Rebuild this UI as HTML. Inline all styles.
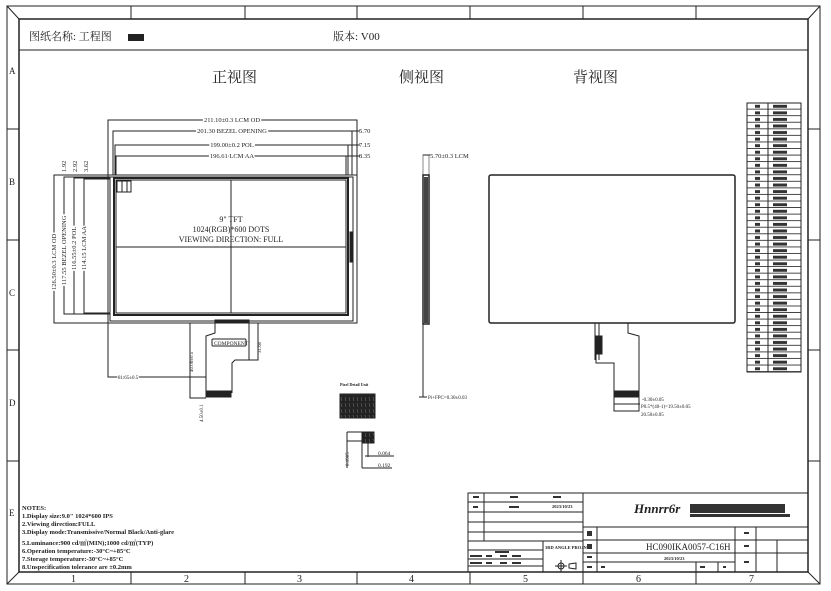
<!DOCTYPE html>
<html><head><meta charset="utf-8"><style>
html,body{margin:0;padding:0;background:#fff;}
svg{display:block;}
text{font-family:"Liberation Serif","Noto Serif CJK SC",serif;fill:#222;}
.s{font-family:"Liberation Sans","Noto Sans CJK SC",sans-serif;}
</style></head><body>
<svg width="831" height="591" viewBox="0 0 831 591" xmlns="http://www.w3.org/2000/svg">
<defs>
<pattern id="pr" x="747" y="103" width="54" height="6.561" patternUnits="userSpaceOnUse">
<line x1="0" y1="6.2" x2="54" y2="6.2" stroke="#222" stroke-width="0.9"/>
<rect x="8" y="1.8" width="5" height="3" fill="#333"/>
<rect x="26" y="1.8" width="14" height="3" fill="#333"/>
</pattern>
<pattern id="px" width="4" height="6" patternUnits="userSpaceOnUse">
<rect width="4" height="6" fill="#222"/><line x1="1" y1="1" x2="2" y2="5" stroke="#777" stroke-width="0.5"/>
</pattern>
</defs>
<g fill="none" stroke="#222" stroke-width="1">
<rect x="7" y="6" width="813" height="578"/>
<rect x="19" y="19" width="789" height="553" stroke-width="1.5"/>
<line x1="7" y1="6" x2="19" y2="19"/><line x1="820" y1="584" x2="808" y2="572"/>
<line x1="7" y1="584" x2="19" y2="572"/><line x1="820" y1="6" x2="808" y2="19"/>
<line x1="19" y1="50" x2="808" y2="50"/>
<line x1="131" y1="6" x2="131" y2="19"/><line x1="245" y1="6" x2="245" y2="19"/><line x1="357" y1="6" x2="357" y2="19"/><line x1="470" y1="6" x2="470" y2="19"/><line x1="583" y1="6" x2="583" y2="19"/><line x1="696" y1="6" x2="696" y2="19"/>
<line x1="131" y1="572" x2="131" y2="584"/><line x1="245" y1="572" x2="245" y2="584"/><line x1="357" y1="572" x2="357" y2="584"/><line x1="470" y1="572" x2="470" y2="584"/><line x1="583" y1="572" x2="583" y2="584"/><line x1="696" y1="572" x2="696" y2="584"/>
<line x1="7" y1="129" x2="19" y2="129"/><line x1="7" y1="240" x2="19" y2="240"/><line x1="7" y1="350" x2="19" y2="350"/><line x1="7" y1="461" x2="19" y2="461"/>
<line x1="808" y1="129" x2="820" y2="129"/><line x1="808" y1="240" x2="820" y2="240"/><line x1="808" y1="350" x2="820" y2="350"/><line x1="808" y1="461" x2="820" y2="461"/>

<rect x="108" y="175" width="249" height="148"/>
<rect x="110" y="177" width="243" height="144"/>
<rect x="114" y="178" width="234" height="137" stroke-width="2"/>
<rect x="116" y="180" width="230" height="133"/>
<line x1="231" y1="180" x2="231" y2="313"/><line x1="116" y1="247" x2="346" y2="247"/>
<rect x="117" y="181" width="14" height="11"/>
<line x1="122" y1="181" x2="122" y2="192"/><line x1="127" y1="181" x2="127" y2="192"/>
<rect x="350" y="232" width="3" height="30" fill="#222"/>
<polyline points="108,175 108,120 357,120 357,175"/>
<polyline points="113,175 113,131 352,131 352,175"/>
<polyline points="115,175 115,145 348,145 348,175"/>
<polyline points="116,175 116,156 346,156 346,175"/>
<line x1="352" y1="131" x2="360" y2="131"/><line x1="348" y1="145" x2="360" y2="145"/><line x1="346" y1="156" x2="360" y2="156"/>
<polyline points="108,175 54,175 54,323 108,323"/>
<polyline points="110,177 64,177 64,314 110,314"/>
<polyline points="110,178 74,178 74,314 110,314"/>
<polyline points="110,179 84,179 84,313 110,313"/>
<rect x="215" y="320" width="34" height="3" fill="#222"/>
<polyline points="215,323 215,333 206,336 206,393"/>
<polyline points="249,323 249,360 235,360 232,363 232,393"/>
<rect x="206" y="391" width="25" height="6" fill="#222"/>
<rect x="212" y="339" width="34" height="7" rx="1"/>
<polyline points="108,323 108,377 206,377"/>
<polyline points="190,323 190,398 206,398"/>
<polyline points="258,323 258,360 249,360"/>

<rect x="423" y="155" width="6" height="20" stroke="#888"/>
<rect x="423" y="175" width="6" height="149" stroke-width="1.5"/>
<rect x="424" y="177" width="4" height="146" fill="#444" stroke="none"/>
<line x1="423" y1="324" x2="423" y2="397"/><line x1="419" y1="397" x2="427" y2="397"/>
<line x1="423" y1="155" x2="430" y2="155"/>

<rect x="489" y="175" width="246" height="148" rx="2" stroke-width="1.5"/>
<line x1="595" y1="323" x2="595" y2="360"/><line x1="599" y1="323" x2="599" y2="360"/>
<rect x="595" y="336" width="7" height="18" fill="#222"/>
<polyline points="596,354 596,363 614,363 614,397"/>
<polyline points="628,323 628,333 639,336 639,397"/>
<rect x="614" y="391" width="25" height="6" fill="#222"/>
<rect x="614" y="391" width="25" height="20"/>
<line x1="614" y1="404" x2="640" y2="404"/>

<rect x="340" y="394" width="35" height="24" fill="url(#px)"/>
<rect x="362" y="432" width="12" height="11" fill="url(#px)"/>
<polyline points="347,432 362,432"/><polyline points="347,441 362,441"/>
<line x1="347" y1="432" x2="347" y2="468"/>
<line x1="362" y1="443" x2="362" y2="468"/><line x1="362" y1="468" x2="392" y2="468"/>
<line x1="368" y1="443" x2="368" y2="457"/><line x1="365" y1="456" x2="394" y2="456"/>

<rect x="747" y="103" width="54" height="269" fill="url(#pr)"/>
<rect x="747" y="103" width="54" height="269"/>
<line x1="768" y1="103" x2="768" y2="372"/>
</g>

<g fill="none" stroke="#222" stroke-width="1">
<rect x="468" y="493" width="340" height="79"/>
<line x1="583" y1="493" x2="583" y2="572"/>
<line x1="484" y1="493" x2="484" y2="541"/><line x1="543" y1="541" x2="543" y2="572"/>
<line x1="468" y1="502" x2="583" y2="502"/><line x1="468" y1="512" x2="583" y2="512"/><line x1="468" y1="522" x2="583" y2="522"/><line x1="468" y1="532" x2="583" y2="532"/><line x1="468" y1="541" x2="583" y2="541"/><line x1="468" y1="550" x2="543" y2="550"/>
<line x1="468" y1="559" x2="543" y2="559"/><line x1="468" y1="566" x2="543" y2="566"/>
<line x1="583" y1="527" x2="808" y2="527"/><line x1="583" y1="540" x2="735" y2="540"/><line x1="583" y1="553" x2="735" y2="553"/><line x1="583" y1="562" x2="735" y2="562"/>
<line x1="735" y1="540" x2="808" y2="540"/><line x1="735" y1="553" x2="808" y2="553"/>
<line x1="597" y1="527" x2="597" y2="572"/><line x1="735" y1="527" x2="735" y2="572"/><line x1="756" y1="527" x2="756" y2="572"/><line x1="777" y1="540" x2="777" y2="572"/>
<line x1="696" y1="562" x2="696" y2="572"/><line x1="718" y1="562" x2="718" y2="572"/>
<circle cx="561" cy="566" r="3"/><line x1="555" y1="566" x2="567" y2="566"/><line x1="561" y1="560" x2="561" y2="572"/>
<polygon points="576,563 576,569 569,568 569,564"/>
</g>
<g fill="#333">
<rect x="473" y="496" width="6" height="2"/><rect x="510" y="496" width="8" height="2"/><rect x="553" y="496" width="8" height="2"/>
<rect x="473" y="506" width="5" height="2"/><rect x="509" y="506" width="10" height="2"/>
<rect x="495" y="551" width="14" height="2"/>
<rect x="470" y="555" width="12" height="2"/><rect x="486" y="555" width="6" height="2"/><rect x="500" y="555" width="7" height="2"/><rect x="512" y="555" width="9" height="2"/>
<rect x="470" y="562" width="12" height="2"/><rect x="486" y="562" width="6" height="2"/><rect x="500" y="562" width="7" height="2"/><rect x="512" y="562" width="9" height="2"/>
<rect x="587" y="531" width="5" height="5"/><rect x="587" y="544" width="5" height="5"/><rect x="587" y="556" width="5" height="2"/><rect x="587" y="566" width="5" height="2"/>
<rect x="744" y="532" width="5" height="2"/><rect x="744" y="545" width="5" height="2"/><rect x="744" y="561" width="5" height="2"/>
<rect x="601" y="566" width="4" height="2"/><rect x="700" y="566" width="5" height="2"/><rect x="723" y="566" width="3" height="2"/>
<rect x="690" y="504" width="95" height="9"/>
<rect x="690" y="514" width="100" height="3"/>
</g>
<rect x="128" y="34" width="16" height="7" fill="#222"/>
<text x="634" y="513" font-size="13" font-style="italic" font-weight="bold" font-family="Liberation Sans">Hnnrr6r</text>

<text x="29" y="40" font-size="11">图纸名称: 工程图</text>
<text x="333" y="40" font-size="11">版本:   V00</text>
<text x="212" y="82" font-size="15">正视图</text>
<text x="399" y="82" font-size="15">侧视图</text>
<text x="573" y="82" font-size="15">背视图</text>
<g font-size="9"><text x="9" y="74">A</text><text x="9" y="185">B</text><text x="9" y="296">C</text><text x="9" y="406">D</text><text x="9" y="516">E</text></g>
<g font-size="10"><text x="71" y="582">1</text><text x="184" y="582">2</text><text x="297" y="582">3</text><text x="409" y="582">4</text><text x="523" y="582">5</text><text x="636" y="582">6</text><text x="749" y="582">7</text></g>
<g font-size="6.5">
<text x="232" y="122" text-anchor="middle" stroke="#fff" stroke-width="3" paint-order="stroke">211.10±0.3 LCM OD</text>
<text x="232" y="133" text-anchor="middle" stroke="#fff" stroke-width="3" paint-order="stroke">201.30 BEZEL OPENING</text>
<text x="232" y="147" text-anchor="middle" stroke="#fff" stroke-width="3" paint-order="stroke">199.00±0.2 POL</text>
<text x="232" y="158" text-anchor="middle" stroke="#fff" stroke-width="3" paint-order="stroke">196.61 LCM AA</text>
<text x="359" y="133">5.70</text><text x="359" y="147">7.15</text><text x="359" y="158">8.35</text>
<text x="231" y="222" font-size="8" text-anchor="middle">9" TFT</text>
<text x="231" y="232" font-size="8" text-anchor="middle">1024(RGB)*600 DOTS</text>
<text x="231" y="242" font-size="8" text-anchor="middle">VIEWING DIRECTION: FULL</text>
<text transform="translate(56,290) rotate(-90)" stroke="#fff" stroke-width="3" paint-order="stroke">126.50±0.3 LCM OD</text>
<text transform="translate(66,285) rotate(-90)" stroke="#fff" stroke-width="3" paint-order="stroke">117.55 BEZEL OPENING</text>
<text transform="translate(76,270) rotate(-90)" stroke="#fff" stroke-width="3" paint-order="stroke">116.55±0.2 POL</text>
<text transform="translate(86,270) rotate(-90)" stroke="#fff" stroke-width="3" paint-order="stroke">114.15 LCM AA</text>
<text transform="translate(66,172) rotate(-90)">1.92</text>
<text transform="translate(77,172) rotate(-90)">2.92</text>
<text transform="translate(88,172) rotate(-90)">3.62</text>
<text x="430" y="158">5.70±0.3 LCM</text>
<text x="428" y="399" font-size="5">Pi+FPC=0.30±0.03</text>
<text x="642" y="401" font-size="5">-0.30±0.05</text>
<text x="641" y="408" font-size="5">P0.5*(40-1)=19.50±0.05</text>
<text x="641" y="416" font-size="5">20.50±0.05</text>
<text x="118" y="379" font-size="5" stroke="#fff" stroke-width="2" paint-order="stroke">81.65±0.5</text>
<text transform="translate(193,372) rotate(-90)" font-size="5">40.06±0.5</text>
<text transform="translate(261,353) rotate(-90)" font-size="5">31.60</text>
<text transform="translate(203,422) rotate(-90)" font-size="5">4.50±0.1</text>
<text x="214" y="345" font-size="5.5">COMPONENT</text>
<text x="340" y="386" font-size="4" font-weight="bold">Pixel Detail Unit</text>
<text transform="translate(349,466) rotate(-90)" font-size="5">0.1905</text>
<text x="378" y="455" font-size="5.5">0.064</text><text x="378" y="467" font-size="5.5">0.192</text>
<text x="646" y="550" font-size="9">HC090IKA0057-C16H</text>
<text x="664" y="560" font-size="4.5" font-weight="bold">2023/10/23</text>
<text x="552" y="508" font-size="4.5" font-weight="bold">2023/10/23</text>
<text x="545" y="549" font-size="4.5" font-weight="bold">3RD ANGLE PROJN</text>
</g>
<g class="s" font-size="6.5" font-weight="bold" fill="#222">
<text x="22" y="510">NOTES:</text>
<text x="22" y="518">1.Display size:9.0" 1024*600 IPS</text>
<text x="22" y="526">2.Viewing direction:FULL</text>
<text x="22" y="534">3.Display mode:Transmissive/Normal Black/Anti-glare</text>
<text x="22" y="545">5.Luminance:900 cd/㎡(MIN);1000 cd/㎡(TYP)</text>
<text x="22" y="553">6.Operation temperature:-30°C~+85°C</text>
<text x="22" y="561">7.Storage temperature:-30°C~+85°C</text>
<text x="22" y="569">8.Unspecification tolerance are ±0.2mm</text>
</g>
</svg>
</body></html>
